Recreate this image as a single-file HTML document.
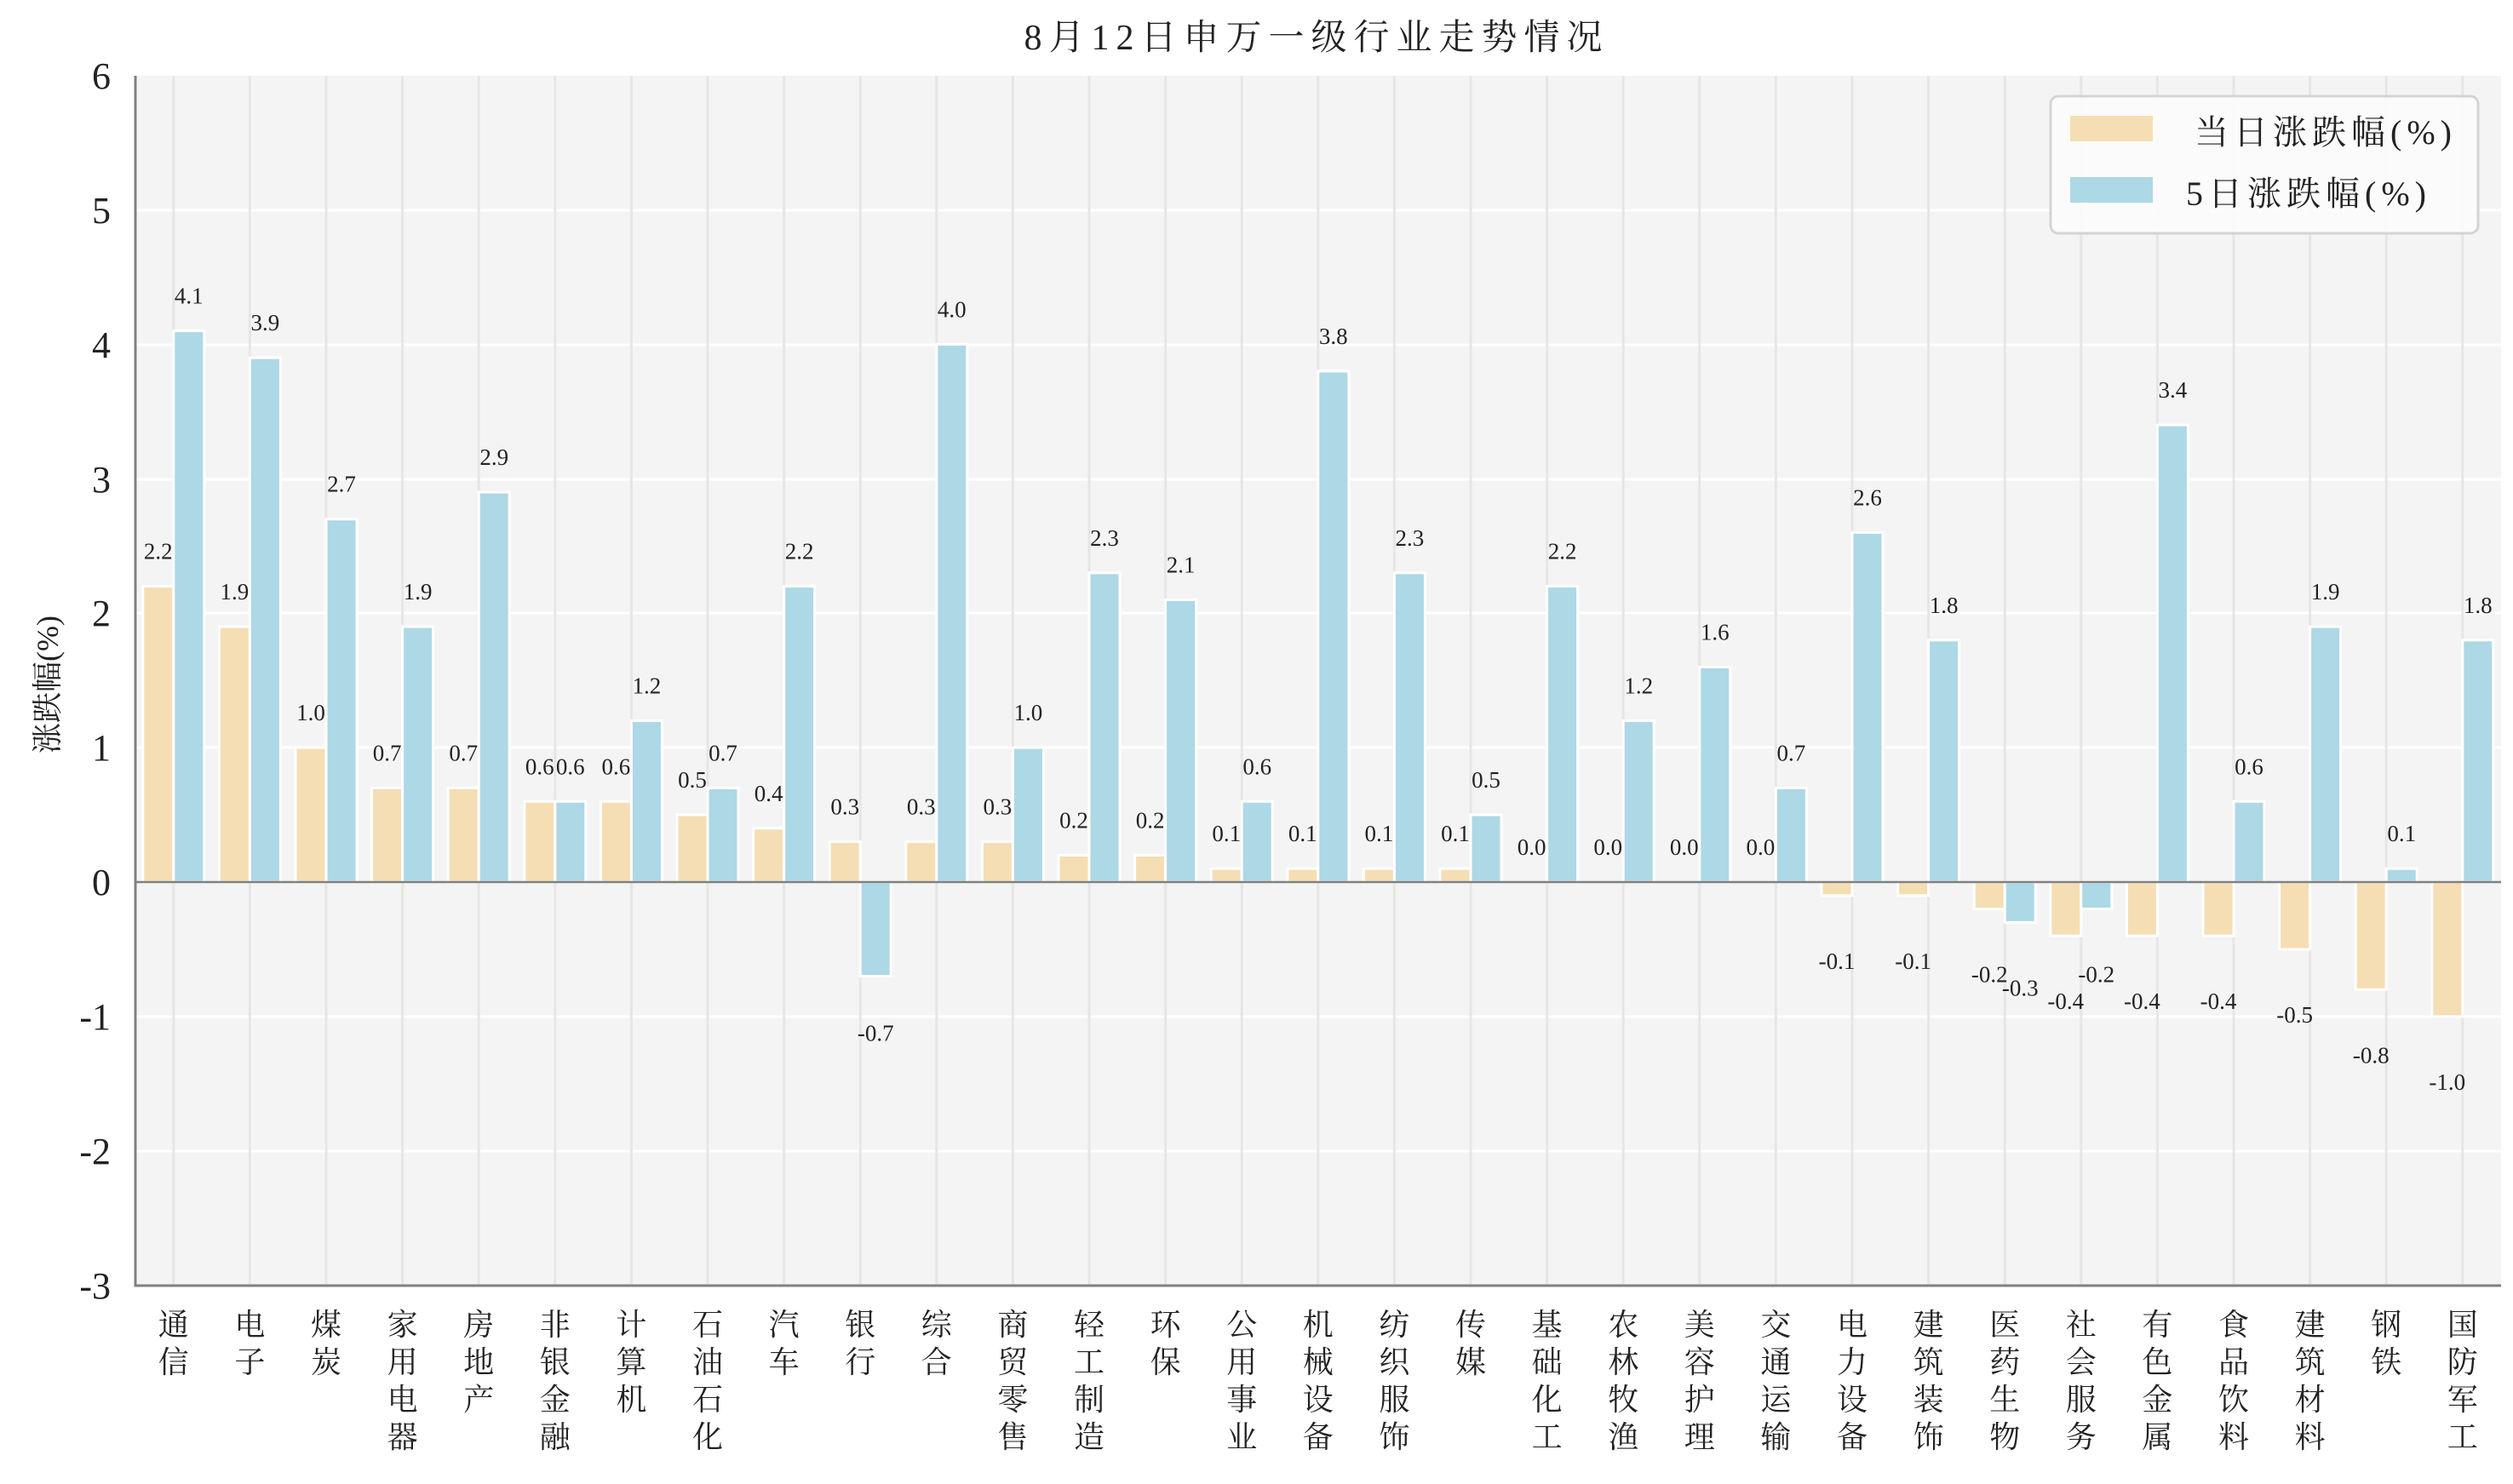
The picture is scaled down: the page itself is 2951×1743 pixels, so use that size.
<!DOCTYPE html>
<html><head><meta charset="utf-8"><style>
html,body{margin:0;padding:0;background:#fff;}
svg{display:block;font-family:"Liberation Serif","Noto Serif CJK SC",serif;}
.bl{font-size:27px;fill:#222;text-anchor:middle;}
.tk{font-size:44px;fill:#222;text-anchor:end;}
.xl{font-size:36px;fill:#222;text-anchor:middle;}
.o{fill:#f5deb3;stroke:#fff;stroke-width:3;}
.b{fill:#add8e6;stroke:#fff;stroke-width:3;}
</style></head><body>
<svg width="2951" height="1743" viewBox="0 0 2951 1743" xmlns="http://www.w3.org/2000/svg">
<rect x="159" y="89" width="2778" height="1421" fill="#f4f4f4"/>
<g stroke="#fff" stroke-width="3">
<line x1="159" x2="2937" y1="247" y2="247"/><line x1="159" x2="2937" y1="405" y2="405"/><line x1="159" x2="2937" y1="563" y2="563"/><line x1="159" x2="2937" y1="720" y2="720"/><line x1="159" x2="2937" y1="878" y2="878"/><line x1="159" x2="2937" y1="1194" y2="1194"/><line x1="159" x2="2937" y1="1352" y2="1352"/>
</g>
<g stroke="#e6e6e6" stroke-width="3">
<line x1="203.8" x2="203.8" y1="89" y2="1510"/><line x1="293.4" x2="293.4" y1="89" y2="1510"/><line x1="383" x2="383" y1="89" y2="1510"/><line x1="472.6" x2="472.6" y1="89" y2="1510"/><line x1="562.2" x2="562.2" y1="89" y2="1510"/><line x1="651.8" x2="651.8" y1="89" y2="1510"/><line x1="741.4" x2="741.4" y1="89" y2="1510"/><line x1="831" x2="831" y1="89" y2="1510"/><line x1="920.6" x2="920.6" y1="89" y2="1510"/><line x1="1010.2" x2="1010.2" y1="89" y2="1510"/><line x1="1099.8" x2="1099.8" y1="89" y2="1510"/><line x1="1189.4" x2="1189.4" y1="89" y2="1510"/><line x1="1279" x2="1279" y1="89" y2="1510"/><line x1="1368.6" x2="1368.6" y1="89" y2="1510"/><line x1="1458.2" x2="1458.2" y1="89" y2="1510"/><line x1="1547.8" x2="1547.8" y1="89" y2="1510"/><line x1="1637.4" x2="1637.4" y1="89" y2="1510"/><line x1="1727" x2="1727" y1="89" y2="1510"/><line x1="1816.6" x2="1816.6" y1="89" y2="1510"/><line x1="1906.2" x2="1906.2" y1="89" y2="1510"/><line x1="1995.8" x2="1995.8" y1="89" y2="1510"/><line x1="2085.4" x2="2085.4" y1="89" y2="1510"/><line x1="2175" x2="2175" y1="89" y2="1510"/><line x1="2264.6" x2="2264.6" y1="89" y2="1510"/><line x1="2354.2" x2="2354.2" y1="89" y2="1510"/><line x1="2443.8" x2="2443.8" y1="89" y2="1510"/><line x1="2533.4" x2="2533.4" y1="89" y2="1510"/><line x1="2623" x2="2623" y1="89" y2="1510"/><line x1="2712.6" x2="2712.6" y1="89" y2="1510"/><line x1="2802.2" x2="2802.2" y1="89" y2="1510"/><line x1="2891.8" x2="2891.8" y1="89" y2="1510"/>
</g>

<g transform="translate(203.8,0)"><rect class="o" x="-36" y="688.6" width="36" height="347.4"/><rect class="b" x="0" y="388.6" width="36" height="647.4"/><text class="bl" x="-18" y="656.6">2.2</text><text class="bl" x="18" y="356.6">4.1</text><text class="xl" x="0" y="1568">通</text><text class="xl" x="0" y="1612">信</text></g>
<g transform="translate(293.4,0)"><rect class="o" x="-36" y="736" width="36" height="300"/><rect class="b" x="0" y="420.2" width="36" height="615.8"/><text class="bl" x="-18" y="704">1.9</text><text class="bl" x="18" y="388.2">3.9</text><text class="xl" x="0" y="1568">电</text><text class="xl" x="0" y="1612">子</text></g>
<g transform="translate(383,0)"><rect class="o" x="-36" y="878.1" width="36" height="157.9"/><rect class="b" x="0" y="609.7" width="36" height="426.3"/><text class="bl" x="-18" y="846.1">1.0</text><text class="bl" x="18" y="577.7">2.7</text><text class="xl" x="0" y="1568">煤</text><text class="xl" x="0" y="1612">炭</text></g>
<g transform="translate(472.6,0)"><rect class="o" x="-36" y="925.5" width="36" height="110.5"/><rect class="b" x="0" y="736" width="36" height="300"/><text class="bl" x="-18" y="893.5">0.7</text><text class="bl" x="18" y="704">1.9</text><text class="xl" x="0" y="1568">家</text><text class="xl" x="0" y="1612">用</text><text class="xl" x="0" y="1656">电</text><text class="xl" x="0" y="1700">器</text></g>
<g transform="translate(562.2,0)"><rect class="o" x="-36" y="925.5" width="36" height="110.5"/><rect class="b" x="0" y="578.1" width="36" height="457.9"/><text class="bl" x="-18" y="893.5">0.7</text><text class="bl" x="18" y="546.1">2.9</text><text class="xl" x="0" y="1568">房</text><text class="xl" x="0" y="1612">地</text><text class="xl" x="0" y="1656">产</text></g>
<g transform="translate(651.8,0)"><rect class="o" x="-36" y="941.3" width="36" height="94.7"/><rect class="b" x="0" y="941.3" width="36" height="94.7"/><text class="bl" x="-18" y="909.3">0.6</text><text class="bl" x="18" y="909.3">0.6</text><text class="xl" x="0" y="1568">非</text><text class="xl" x="0" y="1612">银</text><text class="xl" x="0" y="1656">金</text><text class="xl" x="0" y="1700">融</text></g>
<g transform="translate(741.4,0)"><rect class="o" x="-36" y="941.3" width="36" height="94.7"/><rect class="b" x="0" y="846.5" width="36" height="189.5"/><text class="bl" x="-18" y="909.3">0.6</text><text class="bl" x="18" y="814.5">1.2</text><text class="xl" x="0" y="1568">计</text><text class="xl" x="0" y="1612">算</text><text class="xl" x="0" y="1656">机</text></g>
<g transform="translate(831,0)"><rect class="o" x="-36" y="957" width="36" height="79"/><rect class="b" x="0" y="925.5" width="36" height="110.5"/><text class="bl" x="-18" y="925">0.5</text><text class="bl" x="18" y="893.5">0.7</text><text class="xl" x="0" y="1568">石</text><text class="xl" x="0" y="1612">油</text><text class="xl" x="0" y="1656">石</text><text class="xl" x="0" y="1700">化</text></g>
<g transform="translate(920.6,0)"><rect class="o" x="-36" y="972.8" width="36" height="63.2"/><rect class="b" x="0" y="688.6" width="36" height="347.4"/><text class="bl" x="-18" y="940.8">0.4</text><text class="bl" x="18" y="656.6">2.2</text><text class="xl" x="0" y="1568">汽</text><text class="xl" x="0" y="1612">车</text></g>
<g transform="translate(1010.2,0)"><rect class="o" x="-36" y="988.6" width="36" height="47.4"/><rect class="b" x="0" y="1036" width="36" height="110.5"/><text class="bl" x="-18" y="956.6">0.3</text><text class="bl" x="18" y="1222.5">-0.7</text><text class="xl" x="0" y="1568">银</text><text class="xl" x="0" y="1612">行</text></g>
<g transform="translate(1099.8,0)"><rect class="o" x="-36" y="988.6" width="36" height="47.4"/><rect class="b" x="0" y="404.4" width="36" height="631.6"/><text class="bl" x="-18" y="956.6">0.3</text><text class="bl" x="18" y="372.4">4.0</text><text class="xl" x="0" y="1568">综</text><text class="xl" x="0" y="1612">合</text></g>
<g transform="translate(1189.4,0)"><rect class="o" x="-36" y="988.6" width="36" height="47.4"/><rect class="b" x="0" y="878.1" width="36" height="157.9"/><text class="bl" x="-18" y="956.6">0.3</text><text class="bl" x="18" y="846.1">1.0</text><text class="xl" x="0" y="1568">商</text><text class="xl" x="0" y="1612">贸</text><text class="xl" x="0" y="1656">零</text><text class="xl" x="0" y="1700">售</text></g>
<g transform="translate(1279,0)"><rect class="o" x="-36" y="1004.4" width="36" height="31.6"/><rect class="b" x="0" y="672.8" width="36" height="363.2"/><text class="bl" x="-18" y="972.4">0.2</text><text class="bl" x="18" y="640.8">2.3</text><text class="xl" x="0" y="1568">轻</text><text class="xl" x="0" y="1612">工</text><text class="xl" x="0" y="1656">制</text><text class="xl" x="0" y="1700">造</text></g>
<g transform="translate(1368.6,0)"><rect class="o" x="-36" y="1004.4" width="36" height="31.6"/><rect class="b" x="0" y="704.4" width="36" height="331.6"/><text class="bl" x="-18" y="972.4">0.2</text><text class="bl" x="18" y="672.4">2.1</text><text class="xl" x="0" y="1568">环</text><text class="xl" x="0" y="1612">保</text></g>
<g transform="translate(1458.2,0)"><rect class="o" x="-36" y="1020.2" width="36" height="15.8"/><rect class="b" x="0" y="941.3" width="36" height="94.7"/><text class="bl" x="-18" y="988.2">0.1</text><text class="bl" x="18" y="909.3">0.6</text><text class="xl" x="0" y="1568">公</text><text class="xl" x="0" y="1612">用</text><text class="xl" x="0" y="1656">事</text><text class="xl" x="0" y="1700">业</text></g>
<g transform="translate(1547.8,0)"><rect class="o" x="-36" y="1020.2" width="36" height="15.8"/><rect class="b" x="0" y="436" width="36" height="600"/><text class="bl" x="-18" y="988.2">0.1</text><text class="bl" x="18" y="404">3.8</text><text class="xl" x="0" y="1568">机</text><text class="xl" x="0" y="1612">械</text><text class="xl" x="0" y="1656">设</text><text class="xl" x="0" y="1700">备</text></g>
<g transform="translate(1637.4,0)"><rect class="o" x="-36" y="1020.2" width="36" height="15.8"/><rect class="b" x="0" y="672.8" width="36" height="363.2"/><text class="bl" x="-18" y="988.2">0.1</text><text class="bl" x="18" y="640.8">2.3</text><text class="xl" x="0" y="1568">纺</text><text class="xl" x="0" y="1612">织</text><text class="xl" x="0" y="1656">服</text><text class="xl" x="0" y="1700">饰</text></g>
<g transform="translate(1727,0)"><rect class="o" x="-36" y="1020.2" width="36" height="15.8"/><rect class="b" x="0" y="957" width="36" height="79"/><text class="bl" x="-18" y="988.2">0.1</text><text class="bl" x="18" y="925">0.5</text><text class="xl" x="0" y="1568">传</text><text class="xl" x="0" y="1612">媒</text></g>
<g transform="translate(1816.6,0)"><rect class="b" x="0" y="688.6" width="36" height="347.4"/><text class="bl" x="-18" y="1004">0.0</text><text class="bl" x="18" y="656.6">2.2</text><text class="xl" x="0" y="1568">基</text><text class="xl" x="0" y="1612">础</text><text class="xl" x="0" y="1656">化</text><text class="xl" x="0" y="1700">工</text></g>
<g transform="translate(1906.2,0)"><rect class="b" x="0" y="846.5" width="36" height="189.5"/><text class="bl" x="-18" y="1004">0.0</text><text class="bl" x="18" y="814.5">1.2</text><text class="xl" x="0" y="1568">农</text><text class="xl" x="0" y="1612">林</text><text class="xl" x="0" y="1656">牧</text><text class="xl" x="0" y="1700">渔</text></g>
<g transform="translate(1995.8,0)"><rect class="b" x="0" y="783.4" width="36" height="252.6"/><text class="bl" x="-18" y="1004">0.0</text><text class="bl" x="18" y="751.4">1.6</text><text class="xl" x="0" y="1568">美</text><text class="xl" x="0" y="1612">容</text><text class="xl" x="0" y="1656">护</text><text class="xl" x="0" y="1700">理</text></g>
<g transform="translate(2085.4,0)"><rect class="b" x="0" y="925.5" width="36" height="110.5"/><text class="bl" x="-18" y="1004">0.0</text><text class="bl" x="18" y="893.5">0.7</text><text class="xl" x="0" y="1568">交</text><text class="xl" x="0" y="1612">通</text><text class="xl" x="0" y="1656">运</text><text class="xl" x="0" y="1700">输</text></g>
<g transform="translate(2175,0)"><rect class="o" x="-36" y="1036" width="36" height="15.8"/><rect class="b" x="0" y="625.5" width="36" height="410.5"/><text class="bl" x="-18" y="1137.8">-0.1</text><text class="bl" x="18" y="593.5">2.6</text><text class="xl" x="0" y="1568">电</text><text class="xl" x="0" y="1612">力</text><text class="xl" x="0" y="1656">设</text><text class="xl" x="0" y="1700">备</text></g>
<g transform="translate(2264.6,0)"><rect class="o" x="-36" y="1036" width="36" height="15.8"/><rect class="b" x="0" y="751.8" width="36" height="284.2"/><text class="bl" x="-18" y="1137.8">-0.1</text><text class="bl" x="18" y="719.8">1.8</text><text class="xl" x="0" y="1568">建</text><text class="xl" x="0" y="1612">筑</text><text class="xl" x="0" y="1656">装</text><text class="xl" x="0" y="1700">饰</text></g>
<g transform="translate(2354.2,0)"><rect class="o" x="-36" y="1036" width="36" height="31.6"/><rect class="b" x="0" y="1036" width="36" height="47.4"/><text class="bl" x="-18" y="1153.6">-0.2</text><text class="bl" x="18" y="1169.4">-0.3</text><text class="xl" x="0" y="1568">医</text><text class="xl" x="0" y="1612">药</text><text class="xl" x="0" y="1656">生</text><text class="xl" x="0" y="1700">物</text></g>
<g transform="translate(2443.8,0)"><rect class="o" x="-36" y="1036" width="36" height="63.2"/><rect class="b" x="0" y="1036" width="36" height="31.6"/><text class="bl" x="-18" y="1185.2">-0.4</text><text class="bl" x="18" y="1153.6">-0.2</text><text class="xl" x="0" y="1568">社</text><text class="xl" x="0" y="1612">会</text><text class="xl" x="0" y="1656">服</text><text class="xl" x="0" y="1700">务</text></g>
<g transform="translate(2533.4,0)"><rect class="o" x="-36" y="1036" width="36" height="63.2"/><rect class="b" x="0" y="499.1" width="36" height="536.9"/><text class="bl" x="-18" y="1185.2">-0.4</text><text class="bl" x="18" y="467.1">3.4</text><text class="xl" x="0" y="1568">有</text><text class="xl" x="0" y="1612">色</text><text class="xl" x="0" y="1656">金</text><text class="xl" x="0" y="1700">属</text></g>
<g transform="translate(2623,0)"><rect class="o" x="-36" y="1036" width="36" height="63.2"/><rect class="b" x="0" y="941.3" width="36" height="94.7"/><text class="bl" x="-18" y="1185.2">-0.4</text><text class="bl" x="18" y="909.3">0.6</text><text class="xl" x="0" y="1568">食</text><text class="xl" x="0" y="1612">品</text><text class="xl" x="0" y="1656">饮</text><text class="xl" x="0" y="1700">料</text></g>
<g transform="translate(2712.6,0)"><rect class="o" x="-36" y="1036" width="36" height="79"/><rect class="b" x="0" y="736" width="36" height="300"/><text class="bl" x="-18" y="1201">-0.5</text><text class="bl" x="18" y="704">1.9</text><text class="xl" x="0" y="1568">建</text><text class="xl" x="0" y="1612">筑</text><text class="xl" x="0" y="1656">材</text><text class="xl" x="0" y="1700">料</text></g>
<g transform="translate(2802.2,0)"><rect class="o" x="-36" y="1036" width="36" height="126.3"/><rect class="b" x="0" y="1020.2" width="36" height="15.8"/><text class="bl" x="-18" y="1248.3">-0.8</text><text class="bl" x="18" y="988.2">0.1</text><text class="xl" x="0" y="1568">钢</text><text class="xl" x="0" y="1612">铁</text></g>
<g transform="translate(2891.8,0)"><rect class="o" x="-36" y="1036" width="36" height="157.9"/><rect class="b" x="0" y="751.8" width="36" height="284.2"/><text class="bl" x="-18" y="1279.9">-1.0</text><text class="bl" x="18" y="719.8">1.8</text><text class="xl" x="0" y="1568">国</text><text class="xl" x="0" y="1612">防</text><text class="xl" x="0" y="1656">军</text><text class="xl" x="0" y="1700">工</text></g>

<line x1="159" x2="2937" y1="1036" y2="1036" stroke="#808080" stroke-width="2.5"/>
<path d="M159,89 V1510 H2937" fill="none" stroke="#808080" stroke-width="3"/>

<text class="tk" x="130" y="104">6</text><text class="tk" x="130" y="262">5</text><text class="tk" x="130" y="420">4</text><text class="tk" x="130" y="578">3</text><text class="tk" x="130" y="735">2</text><text class="tk" x="130" y="893">1</text><text class="tk" x="130" y="1051">0</text><text class="tk" x="130" y="1209">-1</text><text class="tk" x="130" y="1367">-2</text><text class="tk" x="130" y="1525">-3</text>
<text x="0" y="0" transform="translate(68,804) rotate(-90)" font-size="36" text-anchor="middle" fill="#222">涨跌幅(%)</text>
<text x="1546" y="58" font-size="42" letter-spacing="8" text-anchor="middle" fill="#222">8月12日申万一级行业走势情况</text>

<rect x="2408" y="113" width="502" height="161" rx="9" fill="#fcfcfc" fill-opacity="0.9" stroke="#d4d4d4" stroke-width="3"/>
<rect x="2431" y="136" width="97" height="30" fill="#f5deb3"/>
<rect x="2431" y="208" width="97" height="30" fill="#add8e6"/>
<text x="2577" y="169" font-size="40" letter-spacing="6" fill="#222">当日涨跌幅(%)</text>
<text x="2567" y="241" font-size="40" letter-spacing="6" fill="#222">5日涨跌幅(%)</text>
</svg>
</body></html>
